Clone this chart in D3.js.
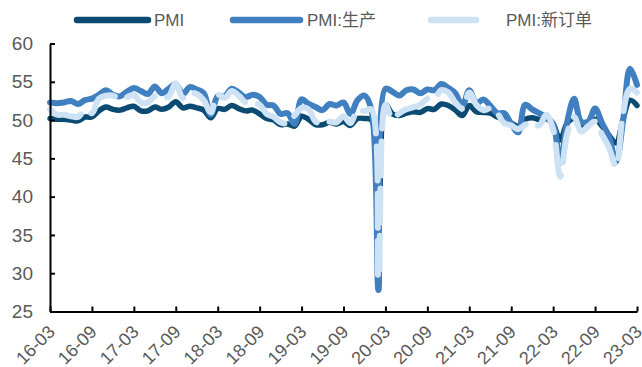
<!DOCTYPE html>
<html>
<head>
<meta charset="utf-8">
<script src="https://cdn.jsdelivr.net/npm/d3@7"></script>
<style>
  html, body { margin: 0; padding: 0; background: #fff; }
  svg { display: block; font-family: "Liberation Sans", Arial, "Noto Sans CJK SC", sans-serif; }
</style>
</head>
<body>
<svg id="chart" width="642" height="367"></svg>
<script>
// Monthly China manufacturing PMI, 2016-03 .. 2023-03
const seriesNames = ["PMI", "PMI:生产", "PMI:新订单"];
const pmi = [
  50.2, 50.1, 50.1, 50.0, 49.9, 50.4, 50.4, 51.2, 51.7, 51.4,
  51.3, 51.6, 51.8, 51.2, 51.2, 51.7, 51.4, 51.7, 52.4, 51.6, 51.8, 51.6,
  51.3, 50.3, 51.5, 51.4, 51.9, 51.5, 51.2, 51.3, 50.8, 50.2, 50.0, 49.4,
  49.5, 49.2, 50.5, 50.1, 49.4, 49.4, 49.7, 49.5, 49.8, 49.3, 50.2, 50.2,
  50.0, 35.7, 52.0, 50.8, 50.6, 50.9, 51.1, 51.0, 51.5, 51.4, 52.1, 51.9,
  51.3, 50.6, 51.9, 51.1, 51.0, 50.9, 50.4, 50.1, 49.6, 49.2, 50.1, 50.3,
  50.1, 50.2, 49.5, 47.4, 49.6, 50.2, 49.0, 49.4, 50.1, 49.2, 48.0, 47.0,
  50.1, 52.6, 51.9
];
const production = [
  52.3, 52.2, 52.3, 52.5, 52.1, 52.6, 52.8, 53.3, 53.9, 53.3,
  53.1, 53.7, 54.2, 53.8, 53.4, 54.4, 53.5, 54.1, 54.7, 53.4, 54.3, 54.0,
  53.5, 50.7, 53.1, 53.1, 54.1, 53.6, 53.0, 53.3, 53.0, 52.0, 51.9, 50.8,
  50.9, 49.5, 52.7, 52.1, 51.7, 51.3, 52.1, 51.9, 52.3, 50.8, 52.6, 53.2,
  51.3, 27.8, 54.1, 53.7, 53.2, 53.9, 54.0, 53.5, 54.0, 53.9, 54.7, 54.2,
  53.5, 51.9, 53.9, 52.2, 52.7, 51.9, 50.9, 50.9, 49.5, 48.4, 52.0, 51.4,
  50.9, 50.4, 49.5, 44.4, 49.7, 52.8, 49.8, 49.8, 51.5, 49.6, 47.8, 44.6,
  49.8, 56.7, 54.6
];
const newOrders = [
  51.4, 50.7, 50.7, 50.5, 50.4, 51.3, 50.9, 52.8, 53.2, 53.2,
  52.8, 53.0, 53.3, 52.3, 52.3, 53.1, 52.8, 53.1, 54.8, 52.9, 53.6, 53.4,
  52.6, 51.0, 53.3, 52.9, 53.8, 53.2, 52.3, 52.2, 52.0, 50.8, 50.4, 49.7,
  49.6, 50.6, 51.6, 51.4, 49.8, 49.6, 49.8, 49.7, 50.5, 49.6, 51.3, 51.2,
  51.4, 29.3, 52.0, 50.2, 50.9, 51.4, 51.7, 52.0, 52.8, 52.8, 53.9, 53.6,
  52.3, 51.5, 53.6, 52.0, 51.3, 51.5, 50.9, 49.6, 49.3, 48.8, 49.4, 49.7,
  49.3, 50.7, 48.8, 42.6, 48.2, 50.4, 48.5, 49.2, 49.8, 48.1, 46.4, 43.9,
  50.9, 54.1, 53.6
];
const xTickLabels = ["16-03", "16-09", "17-03", "17-09", "18-03", "18-09", "19-03", "19-09",
  "20-03", "20-09", "21-03", "21-09", "22-03", "22-09", "23-03"];
const yTicks = [25, 30, 35, 40, 45, 50, 55, 60];

// month labels for every data point
const fmt = d3.timeFormat("%y-%m");
const months = d3.timeMonth.range(new Date(2016, 2, 1), new Date(2023, 3, 1)).map(fmt);

const svg = d3.select("#chart");
const plotLeft = 50, plotRight = 637, plotTop = 43.5, plotBottom = 311.5;

const x = d3.scalePoint().domain(months).range([plotLeft, plotRight]);
const y = d3.scaleLinear().domain([25, 60]).range([plotBottom, plotTop]);

const colors = ["#0b4a72", "#4180c0", "#cde2f4"];
const series = [pmi, production, newOrders];

const line = d3.line()
  .x((d, i) => x(months[i]))
  .y(d => y(d))
  .curve(d3.curveCatmullRom.alpha(0.5));

// series lines, PMI underneath
series.forEach((vals, k) => {
  const p = svg.append("path")
    .datum(vals)
    .attr("d", line)
    .attr("fill", "none")
    .attr("stroke", colors[k])
    .attr("stroke-width", k === 0 ? 5.5 : 6)
    .attr("stroke-linejoin", "round")
    .attr("stroke-linecap", "round");
  if (k === 2) p.attr("stroke-dasharray", "34 13");
});

// y axis
const yAxis = svg.append("g")
  .attr("transform", `translate(${plotLeft},0)`)
  .call(d3.axisLeft(y).tickValues(yTicks).tickSizeInner(-5).tickSizeOuter(0).tickPadding(17));
yAxis.select(".domain").attr("stroke", "#000").attr("stroke-width", 2);
yAxis.selectAll(".tick line").attr("stroke", "#000").attr("stroke-width", 2);
yAxis.selectAll(".tick text")
  .attr("font-size", 19).attr("fill", "#595959")
  .attr("font-family", "'Liberation Sans', Arial, sans-serif");

// x axis
const xAxis = svg.append("g")
  .attr("transform", `translate(0,${plotBottom})`)
  .call(d3.axisBottom(x).tickValues(xTickLabels).tickSizeInner(-5).tickSizeOuter(0));
xAxis.select(".domain").attr("stroke", "#000").attr("stroke-width", 2);
xAxis.selectAll(".tick line").attr("stroke", "#000").attr("stroke-width", 2);
xAxis.selectAll(".tick text")
  .attr("font-size", 18).attr("fill", "#595959")
  .attr("font-family", "'Liberation Sans', Arial, sans-serif")
  .attr("text-anchor", "end")
  .attr("x", 0).attr("y", 0).attr("dy", "0.35em")
  .attr("transform", "translate(1,17) rotate(-45)");

// legend
const legendItems = [
  { x0: 77, x1: 148, tx: 154 },
  { x0: 233, x1: 300, tx: 307 },
  { x0: 431, x1: 476, tx: 506 }
];
const lg = svg.append("g");
legendItems.forEach((it, k) => {
  lg.append("line")
    .attr("x1", it.x0).attr("x2", it.x1)
    .attr("y1", 20).attr("y2", 20)
    .attr("stroke", colors[k]).attr("stroke-width", 6.5)
    .attr("stroke-linecap", "round");
  lg.append("text")
    .attr("x", it.tx).attr("y", 20).attr("dy", "0.35em")
    .attr("font-size", 17).attr("fill", "#595959")
    .text(seriesNames[k]);
});
</script>
</body>
</html>
